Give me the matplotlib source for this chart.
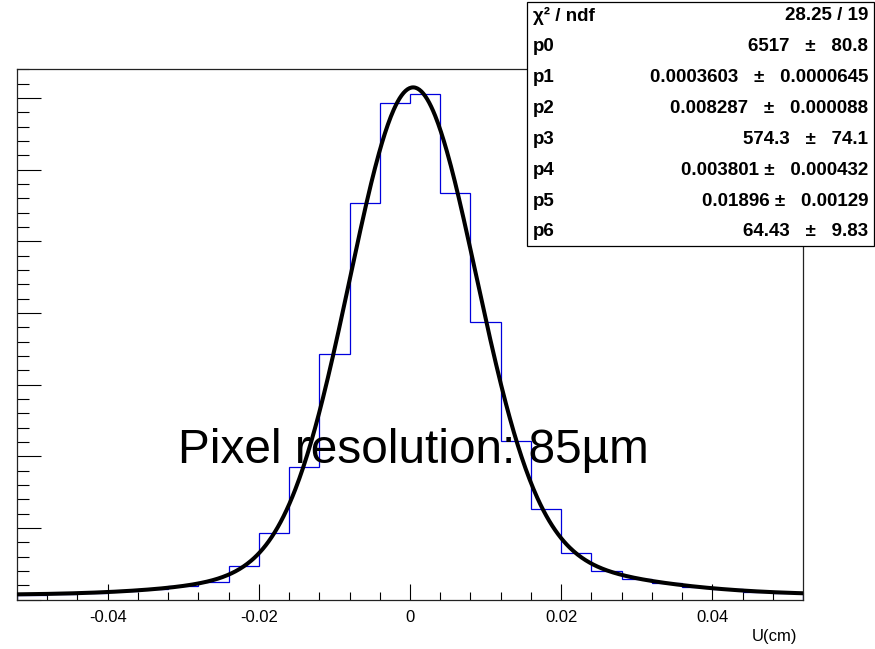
import numpy as np
import matplotlib
matplotlib.use("Agg")
import matplotlib.pyplot as plt
from matplotlib.patches import Rectangle
from matplotlib.ticker import MultipleLocator, NullFormatter

plt.rcParams['font.family'] = ['Liberation Sans', 'DejaVu Sans']

# histogram: 26 bins of 0.004 cm between -0.052 and 0.052
x_lo, x_hi, n_bins = -0.052, 0.052, 26
counts = [66, 79, 95, 118, 146, 182, 240, 467, 924, 1845, 3422, 5529, 6924,
          7058, 5677, 3868, 2216, 1259, 645, 402, 282, 226, 176, 140, 110, 92]

# fit: gaus(p0,p1,p2) + gaus(p3,p4,p5) + p6
fit_par = [6517, 0.0003603, 0.008287, 574.3, 0.003801, 0.01896, 64.43]

stat_names = ['χ² / ndf', 'p0', 'p1', 'p2', 'p3', 'p4', 'p5', 'p6']
stat_values = ['28.25 / 19', '6517   ±   80.8', '0.0003603   ±   0.0000645',
               '0.008287   ±   0.000088', '574.3   ±   74.1',
               '0.003801 ±   0.000432', '0.01896 ±   0.00129',
               '64.43   ±   9.83']

x_ticks = [-0.04, -0.02, 0, 0.02, 0.04]
x_tick_labels = ['-0.04', '-0.02', '0', '0.02', '0.04']


def fit_func(x, p):
    g1 = p[0] * np.exp(-0.5 * ((x - p[1]) / p[2]) ** 2)
    g2 = p[3] * np.exp(-0.5 * ((x - p[4]) / p[5]) ** 2)
    return g1 + g2 + p[6]


W, H = 875, 649
fig = plt.figure(figsize=(W / 100, H / 100), dpi=100)
ax = fig.add_axes([17 / W, 1 - 599.5 / H, (803 - 17) / W, (599.5 - 69) / H])

edges = np.linspace(x_lo, x_hi, n_bins + 1)
ax.stairs(counts, edges, color='#0000dd', lw=0.9, zorder=2)

xf = np.linspace(x_lo, x_hi, 800)
ax.plot(xf, fit_func(xf, fit_par), color='black', lw=2.9, zorder=3)

ax.set_xlim(x_lo, x_hi)
ax.set_ylim(0, 7403)

ax.set_xticks(x_ticks)
ax.set_xticklabels(x_tick_labels)
ax.xaxis.set_minor_locator(MultipleLocator(0.004))
ax.yaxis.set_major_locator(MultipleLocator(1000))
ax.yaxis.set_minor_locator(MultipleLocator(200))
ax.yaxis.set_major_formatter(NullFormatter())

ax.tick_params(axis='x', which='major', direction='in', length=11.5, width=0.8,
               labelsize=12, pad=7.5)
ax.tick_params(axis='x', which='minor', direction='in', length=5.8, width=0.8)
ax.tick_params(axis='y', which='major', direction='in', length=17.3, width=0.8)
ax.tick_params(axis='y', which='minor', direction='in', length=8.6, width=0.8)
for s in ax.spines.values():
    s.set_linewidth(0.9)
    s.set_color('#222222')

ax.text(-0.0307, 1905, 'Pixel resolution: 85µm', fontsize=34.4, va='baseline',
        zorder=4)

fig.text(797 / W, 1 - 636 / H, 'U(cm)', ha='right', va='center', fontsize=12)

# stat box
bx0, bx1, by0, by1 = 527, 874, 2, 246
fig.add_artist(Rectangle((bx0 / W, 1 - by1 / H), (bx1 - bx0) / W, (by1 - by0) / H,
                         transform=fig.transFigure, facecolor='white',
                         edgecolor='black', lw=0.9, zorder=5))
row_first, row_last = 16, 232
row_step = (row_last - row_first) / (len(stat_names) - 1)
for i, (name, val) in enumerate(zip(stat_names, stat_values)):
    yc = 1 - (row_first + i * row_step) / H
    fig.text(533 / W, yc, name, ha='left', va='center', fontsize=13.5,
             fontweight='bold', zorder=6)
    fig.text(868 / W, yc, val, ha='right', va='center', fontsize=13.5,
             fontweight='bold', zorder=6)

fig.savefig('out.png', dpi=100)
